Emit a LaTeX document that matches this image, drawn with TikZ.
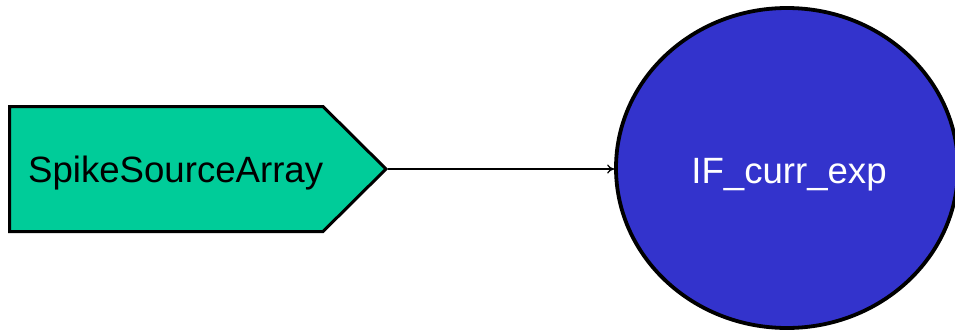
\documentclass[tikz,border=0pt]{standalone}
\usepackage{fontspec}
\setmainfont{Liberation Sans}
\usetikzlibrary{shapes.geometric,arrows.meta}
\definecolor{srcgreen}{HTML}{00CC99}
\definecolor{cellblue}{HTML}{3333CC}
\tikzset{
  srcshape/.style={draw=black, fill=srcgreen, line width=3pt, line join=miter},
  biglabel/.style={inner sep=0pt, font=\fontsize{36.6}{44}\selectfont},
  cellnode/.style={ellipse, draw=black, fill=cellblue, line width=3.8pt,
    minimum width=342pt, minimum height=320pt, inner sep=0pt},
  link/.style={draw=black, line width=1.3pt, -{To[length=7pt,width=9pt]}}
}
\begin{document}
\begin{tikzpicture}[x=1pt,y=1pt]
  \useasboundingbox (0,0) rectangle (955,-332);
  % spike source: a pentagon pointing right
  \draw[srcshape] (9.5,-106.5) -- (323,-106.5) -- (386,-169) -- (323,-231.5) -- (9.5,-231.5) -- cycle;
  \coordinate (srctip) at (387.5,-169);
  \node[biglabel, anchor=base west] (src) at (28,-182) {SpikeSourceArray};
  % neuron population
  \node[cellnode] (ifc) at (787,-168) {};
  \node[biglabel, anchor=base, text=white] (ifclabel) at (789,-183) {IF\_curr\_exp};
  % projection
  \draw[link] (srctip) -- (ifc.west |- srctip);
\end{tikzpicture}
\end{document}
